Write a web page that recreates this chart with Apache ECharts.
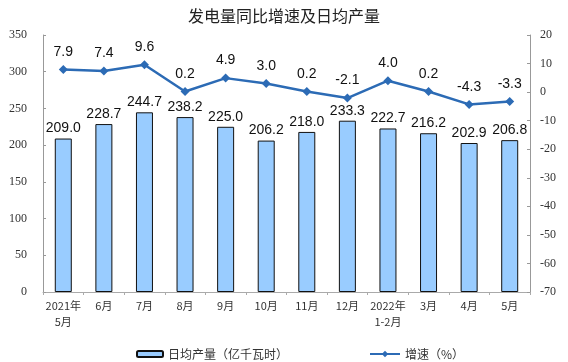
<!DOCTYPE html>
<html><head><meta charset="utf-8">
<script src="https://cdn.jsdelivr.net/npm/echarts@6/dist/echarts.min.js"></script>
<style>html,body{margin:0;padding:0;background:#fff}#c{width:568px;height:362px}</style>
</head><body><div id="c"></div>
<script>
const categories = ['2021年\n5月','6月','7月','8月','9月','10月','11月','12月','2022年\n1-2月','3月','4月','5月'];
const dailyOutput = [209.0,228.7,244.7,238.2,225.0,206.2,218.0,233.3,222.7,216.2,202.9,206.8];
const growthRate = [7.9,7.4,9.6,0.2,4.9,3.0,0.2,-2.1,4.0,0.2,-4.3,-3.3];
const title = '发电量同比增速及日均产量';
const barName = '日均产量（亿千瓦时）';
const lineName = '增速（%）';

const chart = echarts.init(document.getElementById('c'), null, {renderer:'canvas'});
const axisLabelSerif = {fontFamily:'Liberation Serif', fontSize:12, color:'#333'};
chart.setOption({
  animation:false,
  backgroundColor:'#fff',
  title:{text:title,left:'center',top:3,textStyle:{fontFamily:'Noto Sans CJK SC',fontSize:16,fontWeight:'normal',color:'#222'}},
  grid:{left:43,right:38,top:35,bottom:70},
  legend:[
    {data:[barName],left:131,top:343,itemWidth:26,itemHeight:6,itemGap:4,textStyle:{fontFamily:'Noto Sans CJK SC',fontSize:12,color:'#333'}},
    {data:[lineName],left:364,top:343,itemWidth:30,itemHeight:8,textStyle:{fontFamily:'Noto Sans CJK SC',fontSize:12,color:'#333'}}
  ],
  xAxis:{type:'category',data:categories,boundaryGap:true,
    axisLine:{lineStyle:{color:'#aaa'}},
    axisTick:{show:true,alignWithLabel:false,length:3,lineStyle:{color:'#aaa'}},
    axisLabel:{interval:0,fontFamily:'Noto Sans CJK SC',fontSize:11,color:'#333',lineHeight:16,margin:6}},
  yAxis:[
    {type:'value',min:0,max:350,interval:50,position:'left',
      axisLine:{show:true,lineStyle:{color:'#999'}},
      axisTick:{show:true,inside:true,length:3,lineStyle:{color:'#999'}},
      splitLine:{show:false},
      axisLabel:Object.assign({margin:16},axisLabelSerif)},
    {type:'value',min:-70,max:20,interval:10,position:'right',
      axisLine:{show:true,lineStyle:{color:'#999'}},
      axisTick:{show:true,inside:true,length:3,lineStyle:{color:'#999'}},
      splitLine:{show:false},
      axisLabel:Object.assign({margin:10},axisLabelSerif)}
  ],
  series:[
    {name:barName,type:'bar',data:dailyOutput,yAxisIndex:0,barWidth:17,
      itemStyle:{color:'#99CCFF',borderColor:'#111',borderWidth:1},
      label:{show:true,position:'top',distance:3,formatter:p=>p.value.toFixed(1),fontFamily:'Liberation Sans',fontSize:14,color:'#111'}},
    {name:lineName,type:'line',data:growthRate,yAxisIndex:1,
      symbol:'diamond',symbolSize:9,
      lineStyle:{color:'#2C6BB5',width:2.5},itemStyle:{color:'#2C6BB5'},
      label:{show:true,position:'top',distance:6,formatter:p=>p.value.toFixed(1),fontFamily:'Liberation Sans',fontSize:14,color:'#111'}}
  ]
});
</script></body></html>
